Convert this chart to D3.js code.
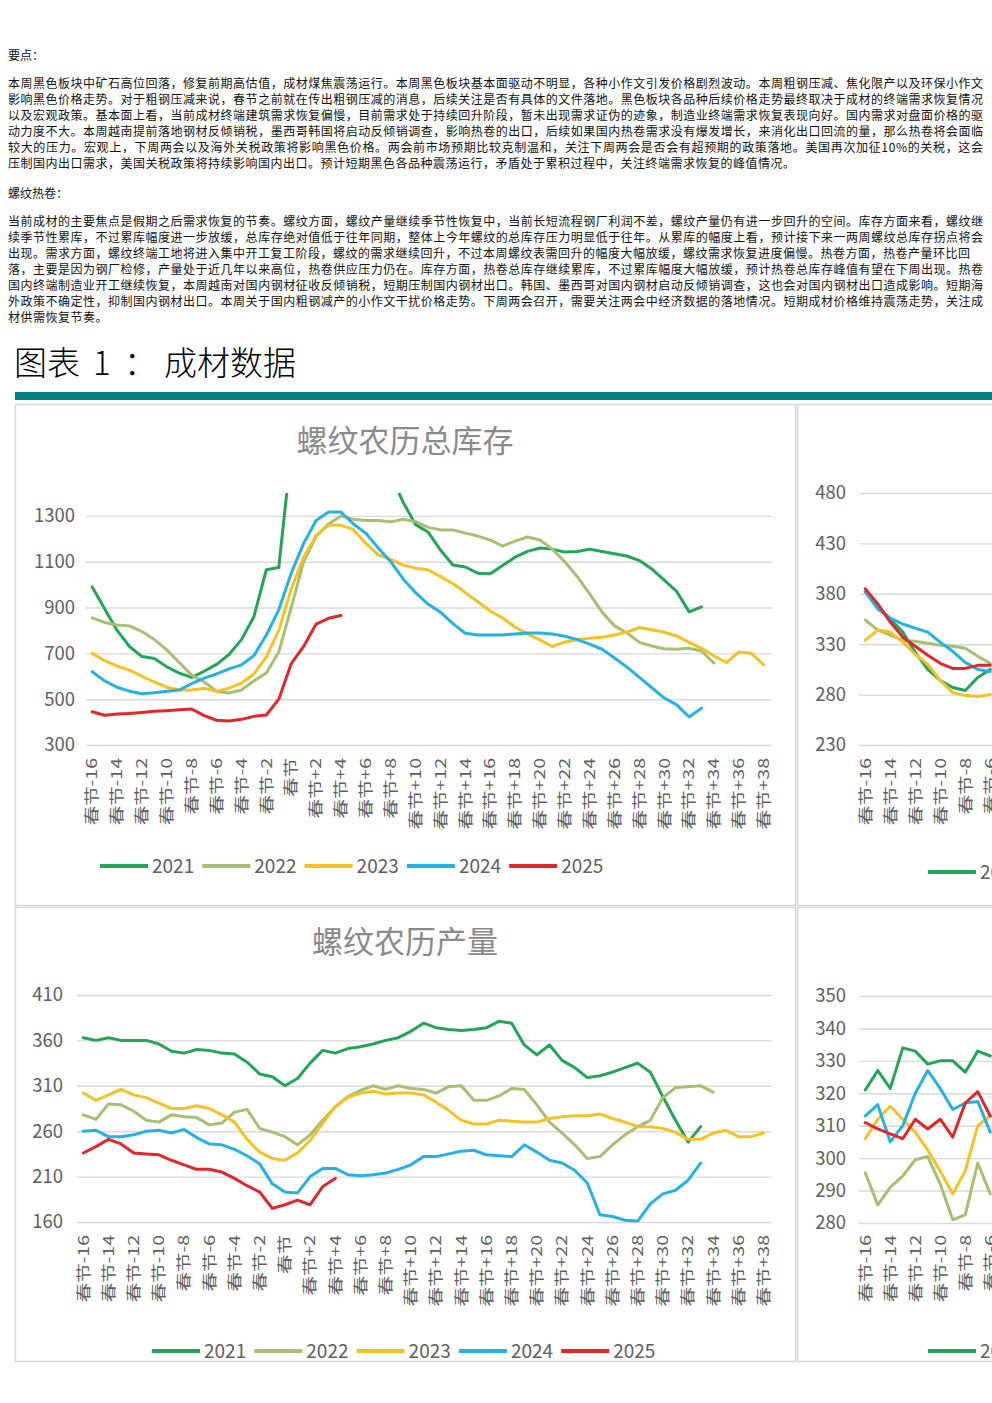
<!DOCTYPE html>
<html>
<head>
<meta charset="utf-8">
<script src="https://cdn.jsdelivr.net/npm/d3@7"></script>
<style>
  body { margin: 0; background: #fff; overflow: hidden; }
  svg { display: block; font-family: "Noto Sans CJK SC", "Noto Sans", sans-serif; }
</style>
</head>
<body>
<div id="page"></div>
<script>
// ---------------- Text ----------------
var keyPointsTitle = "要点：";
var keyPoints = [
  "本周黑色板块中矿石高位回落，修复前期高估值，成材煤焦震荡运行。本周黑色板块基本面驱动不明显，各种小作文引发价格剧烈波动。本周粗钢压减、焦化限产以及环保小作文",
  "影响黑色价格走势。对于粗钢压减来说，春节之前就在传出粗钢压减的消息，后续关注是否有具体的文件落地。黑色板块各品种后续价格走势最终取决于成材的终端需求恢复情况",
  "以及宏观政策。基本面上看，当前成材终端建筑需求恢复偏慢，目前需求处于持续回升阶段，暂未出现需求证伪的迹象，制造业终端需求恢复表现向好。国内需求对盘面价格的驱",
  "动力度不大。本周越南提前落地钢材反倾销税，墨西哥韩国将启动反倾销调查，影响热卷的出口，后续如果国内热卷需求没有爆发增长，来消化出口回流的量，那么热卷将会面临",
  "较大的压力。宏观上，下周两会以及海外关税政策将影响黑色价格。两会前市场预期比较克制温和，关注下周两会是否会有超预期的政策落地。美国再次加征10%的关税，这会",
  "压制国内出口需求，美国关税政策将持续影响国内出口。预计短期黑色各品种震荡运行，矛盾处于累积过程中，关注终端需求恢复的峰值情况。"
];
var steelTitle = "螺纹热卷：";
var steelText = [
  "当前成材的主要焦点是假期之后需求恢复的节奏。螺纹方面，螺纹产量继续季节性恢复中，当前长短流程钢厂利润不差，螺纹产量仍有进一步回升的空间。库存方面来看，螺纹继",
  "续季节性累库，不过累库幅度进一步放缓，总库存绝对值低于往年同期，整体上今年螺纹的总库存压力明显低于往年。从累库的幅度上看，预计接下来一两周螺纹总库存拐点将会",
  "出现。需求方面，螺纹终端工地将进入集中开工复工阶段，螺纹的需求继续回升，不过本周螺纹表需回升的幅度大幅放缓，螺纹需求恢复进度偏慢。热卷方面，热卷产量环比回",
  "落，主要是因为钢厂检修，产量处于近几年以来高位，热卷供应压力仍在。库存方面，热卷总库存继续累库，不过累库幅度大幅放缓，预计热卷总库存峰值有望在下周出现。热卷",
  "国内终端制造业开工继续恢复，本周越南对国内钢材征收反倾销税，短期压制国内钢材出口。韩国、墨西哥对国内钢材启动反倾销调查，这也会对国内钢材出口造成影响。短期海",
  "外政策不确定性，抑制国内钢材出口。本周关于国内粗钢减产的小作文干扰价格走势。下周两会召开，需要关注两会中经济数据的落地情况。短期成材价格维持震荡走势，关注成",
  "材供需恢复节奏。"
];
var sectionTitle = ["图表", "1", "：", "成材数据"];

// ---------------- Data ----------------
var categories = [
  "春节-16","春节-15","春节-14","春节-13","春节-12","春节-11","春节-10","春节-9","春节-8","春节-7",
  "春节-6","春节-5","春节-4","春节-3","春节-2","春节-1","春节","春节+1","春节+2","春节+3",
  "春节+4","春节+5","春节+6","春节+7","春节+8","春节+9","春节+10","春节+11","春节+12","春节+13",
  "春节+14","春节+15","春节+16","春节+17","春节+18","春节+19","春节+20","春节+21","春节+22","春节+23",
  "春节+24","春节+25","春节+26","春节+27","春节+28","春节+29","春节+30","春节+31","春节+32","春节+33",
  "春节+34","春节+35","春节+36","春节+37","春节+38"
];
var years = ["2021", "2022", "2023", "2024", "2025"];

// 螺纹农历总库存
var inv2021 = [990,895,800,730,686,678,641,614,595,622,652,695,760,860,1065,1075,1580,1750,1850,1950,
  2000,1950,1850,1700,1480,1360,1262,1230,1151,1086,1077,1050,1047,1083,1120,1145,1160,1155,1142,1145,
  1155,1145,1135,1125,1105,1068,1020,970,881,903,null,null,null,null,null];
var inv2022 = [855,835,824,820,795,760,715,660,605,575,535,527,540,580,614,706,900,1100,1210,1265,
  1300,1285,1280,1280,1274,1285,1275,1250,1239,1239,1225,1212,1195,1168,1190,1208,1195,1155,1100,1035,
  960,880,820,789,748,732,720,718,722,710,658,null,null,null,null];
var inv2023 = [700,668,645,627,600,575,552,540,540,548,535,548,570,610,685,800,980,1120,1215,1260,
  1260,1240,1180,1130,1110,1085,1072,1065,1035,1005,965,925,885,855,815,785,759,730,750,759,
  766,770,780,793,813,803,792,776,748,722,688,660,706,700,650];
var inv2024 = [620,580,552,535,524,528,535,540,568,592,610,632,650,690,780,890,1050,1180,1280,1317,
  1317,1265,1225,1160,1100,1025,965,915,880,830,788,780,780,780,785,789,789,785,775,760,
  740,718,680,640,595,550,505,475,422,461,null,null,null,null,null];
var inv2025 = [445,430,435,438,442,447,450,454,457,428,408,405,412,425,431,500,655,730,828,853,
  865,null,null,null,null,null,null,null,null,null,null,null,null,null,null,null,null,null,null,null,
  null,null,null,null,null,null,null,null,null,null,null,null,null,null,null];

// 螺纹农历产量
var prod2021 = [363,360,363,360,360,360,356,348,346,350,349,346,345,336,323,320,310,318,335,349,
  346,351,353,356,360,363,370,379,374,372,371,372,374,381,379,355,344,355,338,330,
  319,321,325,330,335,325,298,272,248,265,null,null,null,null,null];
var prod2022 = [278,273,290,289,282,272,270,278,276,275,267,269,281,284,263,259,254,245,256,272,
  287,298,305,310,306,310,307,306,302,309,310,294,294,299,307,306,289,270,258,245,
  230,232,245,256,265,272,297,308,309,310,303,null,null,null,null];
var prod2023 = [302,294,300,306,300,297,291,285,285,288,285,278,270,251,237,230,228,236,250,269,
  287,297,302,304,301,302,302,300,292,283,272,268,268,272,271,270,270,274,276,277,
  277,279,274,270,265,265,263,259,251,251,258,261,254,254,258];
var prod2024 = [260,261,254,254,256,260,261,258,262,253,246,245,240,233,224,202,193,192,210,219,
  219,212,211,212,214,218,223,232,232,235,238,239,234,233,232,245,237,228,225,217,
  203,168,166,162,161,180,191,195,206,225,null,null,null,null,null];
var prod2025 = [236,243,251,246,236,235,234,228,223,218,218,215,208,200,193,175,179,184,179,199,
  208,null,null,null,null,null,null,null,null,null,null,null,null,null,null,null,null,null,null,null,
  null,null,null,null,null,null,null,null,null,null,null,null,null,null,null];

// right-hand panels (only the first weeks are inside the page)
var hcInv2021 = [382,368,355,342,322,305,294,287,284,297,305];
var hcInv2022 = [354,344,339,334,333,331,329,328,326,318,311];
var hcInv2023 = [334,344,342,332,320,310,294,282,279,278,280];
var hcInv2024 = [382,365,356,350,346,342,332,323,312,305,303];
var hcInv2025 = [385,370,352,337,328,319,311,306,306,309,309];

var hcProd2021 = [321,327,321.5,334,333,329,330,330,326.5,333,331.5];
var hcProd2022 = [295.5,285.6,291,294.5,299.5,300.5,292,281,282.5,298.5,289];
var hcProd2023 = [306,312,316,312,308,302.5,296,289,296,310,313];
var hcProd2024 = [313,316.5,305,310,320,327,321.5,315,317,317.5,308];
var hcProd2025 = [311,309,307.5,306,312,309,312,306.5,317,320.5,313];

var invTicks = [300, 500, 700, 900, 1100, 1300];
var prodTicks = [160, 210, 260, 310, 360, 410];
var hcInvTicks = [230, 280, 330, 380, 430, 480];
var hcProdTicks = [280, 290, 300, 310, 320, 330, 340, 350];

// ---------------- Styles ----------------
var pageWidth = 992;
var yearColors = ["#23a456", "#a6bf72", "#f6c124", "#26b1e6", "#e2272b"];
var gridColor = "#d9d9d9";
var labelColor = "#606060";

var svg = d3.select("#page").append("svg")
    .attr("width", pageWidth)
    .attr("height", 1403);

// ---------------------------------------------------------------
// Text block at the top of the page
// ---------------------------------------------------------------
function drawParagraph(lines, firstBaseline, shortLines) {
    lines.forEach(function(t, i) {
        var txt = svg.append("text")
            .attr("x", 8)
            .attr("y", firstBaseline + i * 16)
            .attr("fill", "#111")
            .style("font-size", "12px")
            .text(t);
        if (i < lines.length - 1) {
            txt.attr("textLength", shortLines[i] || 975).attr("lengthAdjust", "spacing");
        } else {
            txt.style("letter-spacing", "0.5px");
        }
    });
}

svg.append("text").attr("x", 8).attr("y", 59.5).attr("fill", "#111")
    .style("font-size", "12px").text(keyPointsTitle);
drawParagraph(keyPoints, 88, {});
svg.append("text").attr("x", 8).attr("y", 197.5).attr("fill", "#111")
    .style("font-size", "12px").text(steelTitle);
drawParagraph(steelText, 226, {2: 962});

// Section heading and teal rule
var heading = svg.append("text")
    .attr("y", 375)
    .attr("fill", "#000")
    .style("font-size", "33px")
    .style("font-weight", "300");
heading.append("tspan").attr("x", 14).text(sectionTitle[0]);
heading.append("tspan").attr("x", 93).text(sectionTitle[1]);
heading.append("tspan").attr("x", 124).text(sectionTitle[2]);
heading.append("tspan").attr("x", 164).text(sectionTitle[3]);

svg.append("rect")
    .attr("x", 15).attr("y", 392)
    .attr("width", 977).attr("height", 8)
    .attr("fill", "#008080");

// Panel frames
[[15.5, 404.5, 780, 501], [797.5, 404.5, 800, 501],
 [15.5, 907.5, 780, 454], [797.5, 907.5, 800, 454]].forEach(function(p) {
    svg.append("rect")
        .attr("x", p[0]).attr("y", p[1])
        .attr("width", p[2]).attr("height", p[3])
        .attr("fill", "none")
        .attr("stroke", "#d6d6d6")
        .attr("stroke-width", 1.5);
});

// ---------------------------------------------------------------
// One lunar-calendar line chart
// ---------------------------------------------------------------
var chartCount = 0;
function drawChart(cfg) {
    chartCount++;
    var x = d3.scaleBand().domain(categories).range([cfg.x0, cfg.x1]);
    var y = d3.scaleLinear().domain(cfg.domain).range([cfg.yBottom, cfg.yTop]);
    var g = svg.append("g");

    if (cfg.title) {
        g.append("text")
            .attr("x", cfg.titleX)
            .attr("y", cfg.titleY)
            .attr("text-anchor", "middle")
            .attr("fill", "#8a8a8a")
            .style("font-size", "31px")
            .text(cfg.title);
    }

    // Y axis with gridlines
    var yAxis = g.append("g")
        .attr("transform", "translate(" + cfg.x0 + ",0)")
        .call(d3.axisLeft(y)
              .tickValues(cfg.ticks)
              .tickFormat(d3.format("d"))
              .tickSizeInner(-(cfg.x1 - cfg.x0 + 2))
              .tickSizeOuter(0)
              .tickPadding(cfg.x0 - cfg.labelRight));
    yAxis.select(".domain").remove();
    yAxis.selectAll("line").attr("stroke", gridColor).attr("stroke-width", 1.4);
    yAxis.selectAll("text")
        .attr("fill", labelColor)
        .style("font-size", "18.5px");
    yAxis.attr("font-family", null).attr("font-size", null);

    // X axis: every second week is labelled, rotated.
    // Labels that fall past the page edge are left out.
    var labelled = categories.filter(function(c, i) {
        return i % 2 === 0 && x(c) < pageWidth;
    });
    var xAxis = g.append("g")
        .attr("transform", "translate(0," + cfg.yBottom + ")")
        .call(d3.axisBottom(x).tickValues(labelled).tickSize(0));
    xAxis.select(".domain").remove();
    xAxis.attr("font-family", null).attr("font-size", null);
    xAxis.selectAll("text")
        .attr("x", 0)
        .attr("y", 0)
        .attr("dy", "0.35em")
        .attr("text-anchor", "end")
        .attr("fill", labelColor)
        .attr("transform", "translate(0," + (cfg.xLabelTop - cfg.yBottom) + ") rotate(-90) scale(1.3,1)")
        .style("font-size", "15px");

    // Series
    var clipId = "clip" + chartCount;
    svg.append("clipPath").attr("id", clipId)
        .append("rect")
        .attr("x", cfg.x0 - 5).attr("y", cfg.yTop)
        .attr("width", cfg.x1 - cfg.x0 + 10)
        .attr("height", cfg.yBottom - cfg.yTop + 10);

    var line = d3.line()
        .defined(function(d) { return d != null; })
        .x(function(d, i) { return x(categories[i]) + x.bandwidth() / 2; })
        .y(function(d) { return y(d); });

    var plot = g.append("g").attr("clip-path", "url(#" + clipId + ")");
    plot.selectAll(".series")
        .data(cfg.series)
        .enter().append("path")
        .attr("class", "series")
        .attr("d", line)
        .attr("fill", "none")
        .attr("stroke", function(d, i) { return yearColors[i]; })
        .attr("stroke-width", 3)
        .attr("stroke-linejoin", "round")
        .attr("stroke-linecap", "round");

    // Legend (items past the page edge are skipped)
    var step = 102.3;
    var shown = years.filter(function(d, i) { return cfg.legendX + i * step < pageWidth; });
    var legend = g.selectAll(".legend")
        .data(shown)
        .enter().append("g")
        .attr("class", "legend")
        .attr("transform", function(d, i) {
            return "translate(" + (cfg.legendX + i * step) + "," + cfg.legendY + ")";
        });
    legend.append("line")
        .attr("x1", 0).attr("x2", 48)
        .attr("stroke", function(d, i) { return yearColors[i]; })
        .attr("stroke-width", 4);
    legend.append("text")
        .attr("x", 52)
        .attr("dy", "0.35em")
        .attr("fill", labelColor)
        .style("font-size", "19px")
        .text(function(d) { return d; });
}

drawChart({
    title: "螺纹农历总库存", titleX: 405, titleY: 452,
    x0: 86, x1: 770, yTop: 493, yBottom: 745,
    domain: [300, 1400], ticks: invTicks, labelRight: 75,
    xLabelTop: 758, legendX: 100, legendY: 866,
    series: [inv2021, inv2022, inv2023, inv2024, inv2025]
});

drawChart({
    title: "螺纹农历产量", titleX: 405, titleY: 953,
    x0: 77, x1: 770, yTop: 995, yBottom: 1222,
    domain: [160, 410], ticks: prodTicks, labelRight: 63,
    xLabelTop: 1235, legendX: 152, legendY: 1351,
    series: [prod2021, prod2022, prod2023, prod2024, prod2025]
});

drawChart({
    x0: 859, x1: 1546.5, yTop: 493, yBottom: 745,
    domain: [230, 480], ticks: hcInvTicks, labelRight: 846,
    xLabelTop: 758, legendX: 928, legendY: 872,
    series: [hcInv2021, hcInv2022, hcInv2023, hcInv2024, hcInv2025]
});

drawChart({
    x0: 859, x1: 1546.5, yTop: 996, yBottom: 1223,
    domain: [280, 350], ticks: hcProdTicks, labelRight: 846,
    xLabelTop: 1235, legendX: 928, legendY: 1351,
    series: [hcProd2021, hcProd2022, hcProd2023, hcProd2024, hcProd2025]
});
</script>
</body>
</html>
